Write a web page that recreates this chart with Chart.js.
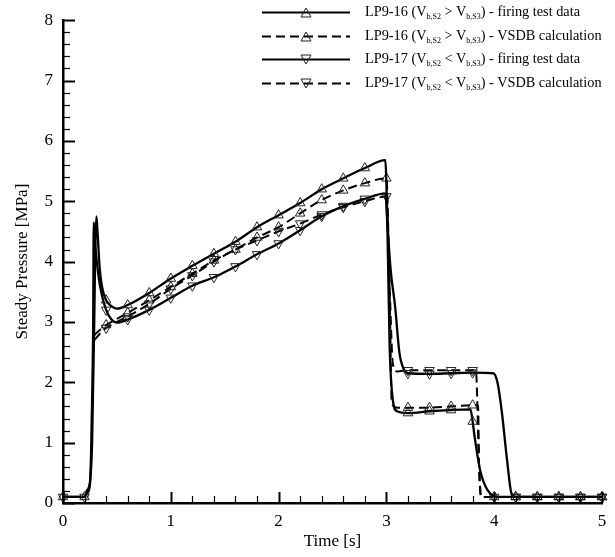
<!DOCTYPE html>
<html>
<head>
<meta charset="utf-8">
<script src="https://cdn.jsdelivr.net/npm/chart.js@4"></script>
<style>
  body { margin: 0; background: #fff; }
  #wrap { position: relative; width: 615px; height: 557px; }
  #legend { position: absolute; left: 258px; top: 0; font-family: "Liberation Serif", "Times New Roman", serif; font-size: 14.3px; color: #000; }
  .row { position: relative; height: 23.6px; line-height: 23.6px; white-space: nowrap; }
  .row svg { position: absolute; left: 0; top: 1px; }
  .row span.txt { position: absolute; left: 107px; top: 0; }
  sub { font-size: 8px; vertical-align: -3px; line-height: 0; }
</style>
</head>
<body>
<div id="wrap">
  <canvas id="chart" width="615" height="557"></canvas>
  <div id="legend"></div>
</div>
<script>
// ---- data ----
const lp16TestT = [0, 0.2, 0.22, 0.25, 0.27, 0.29, 0.3, 0.31, 0.32, 0.34, 0.36, 0.4, 0.46, 0.5, 0.6, 0.8, 1.0, 1.2, 1.4, 1.6, 1.8, 2.0, 2.2, 2.4, 2.6, 2.8, 2.99, 3.01, 3.03, 3.06, 3.1, 3.2, 3.4, 3.6, 3.78, 3.8, 3.82, 3.87, 3.94, 4.05, 4.2, 4.4, 4.6, 4.8, 5.0];
const lp16TestV = [0.1, 0.1, 0.2, 0.35, 1.0, 3.0, 4.3, 4.75, 4.5, 3.9, 3.6, 3.36, 3.25, 3.22, 3.28, 3.48, 3.72, 3.93, 4.13, 4.33, 4.57, 4.77, 4.97, 5.2, 5.38, 5.55, 5.68, 4.5, 2.6, 1.7, 1.52, 1.49, 1.52, 1.54, 1.55, 1.35, 1.08, 0.54, 0.21, 0.1, 0.1, 0.1, 0.1, 0.1, 0.1];

const lp16CalcT = [0.29, 0.3, 0.35, 0.4, 0.5, 0.6, 0.8, 1.0, 1.2, 1.4, 1.6, 1.8, 2.0, 2.2, 2.4, 2.6, 2.8, 3.0, 3.03, 3.05, 3.1, 3.2, 3.4, 3.6, 3.8, 3.85, 3.86, 3.88, 4.0, 4.2, 4.4, 4.6, 4.8, 5.0];
const lp16CalcV = [2.78, 2.8, 2.88, 2.95, 3.05, 3.15, 3.36, 3.58, 3.8, 4.02, 4.2, 4.4, 4.57, 4.8, 5.02, 5.18, 5.3, 5.38, 3.5, 1.65, 1.58, 1.58, 1.58, 1.6, 1.62, 1.62, 0.6, 0.1, 0.1, 0.1, 0.1, 0.1, 0.1, 0.1];

const lp17TestT = [0, 0.2, 0.22, 0.25, 0.26, 0.27, 0.28, 0.285, 0.3, 0.33, 0.36, 0.4, 0.45, 0.5, 0.6, 0.8, 1.0, 1.2, 1.4, 1.6, 1.8, 2.0, 2.2, 2.4, 2.6, 2.8, 2.99, 3.01, 3.04, 3.08, 3.12, 3.16, 3.2, 3.4, 3.6, 3.8, 3.99, 4.03, 4.07, 4.12, 4.16, 4.2, 4.4, 4.6, 4.8, 5.0];
const lp17TestV = [0.1, 0.1, 0.15, 0.3, 0.8, 1.7, 3.0, 4.65, 4.25, 3.75, 3.45, 3.2, 3.04, 2.99, 3.04, 3.2, 3.4, 3.6, 3.74, 3.92, 4.12, 4.3, 4.52, 4.75, 4.92, 5.04, 5.13, 4.6, 3.85, 3.27, 2.5, 2.22, 2.15, 2.14, 2.15, 2.16, 2.15, 2.0, 1.52, 0.7, 0.16, 0.1, 0.1, 0.1, 0.1, 0.1];

const lp17CalcT = [0.29, 0.3, 0.35, 0.4, 0.5, 0.6, 0.8, 1.0, 1.2, 1.4, 1.6, 1.8, 2.0, 2.2, 2.4, 2.6, 2.8, 3.0, 3.03, 3.06, 3.1, 3.2, 3.4, 3.6, 3.8, 3.83, 3.86, 3.88, 4.0, 4.2, 4.4, 4.6, 4.8, 5.0];
const lp17CalcV = [2.7, 2.72, 2.82, 2.9, 3.0, 3.09, 3.3, 3.55, 3.77, 4.0, 4.2, 4.35, 4.5, 4.63, 4.78, 4.9, 5.0, 5.08, 3.6, 2.3, 2.18, 2.2, 2.2, 2.2, 2.2, 2.2, 0.6, 0.1, 0.1, 0.1, 0.1, 0.1, 0.1, 0.1];

const xTicks = [0, 1, 2, 3, 4, 5];
const yTicks = [0, 1, 2, 3, 4, 5, 6, 7, 8];
const seriesLabels = [
  'LP9-16 (V<sub>b,S2</sub> &gt; V<sub>b,S3</sub>) - firing test data',
  'LP9-16 (V<sub>b,S2</sub> &gt; V<sub>b,S3</sub>) - VSDB calculation',
  'LP9-17 (V<sub>b,S2</sub> &lt; V<sub>b,S3</sub>) - firing test data',
  'LP9-17 (V<sub>b,S2</sub> &lt; V<sub>b,S3</sub>) - VSDB calculation'
];

const FONT = '"Liberation Serif", "Times New Roman", serif';
const pts = (t, v) => t.map((x, i) => ({ x, y: v[i] }));
// markers every 0.2 s
const markerRadius = (ctx) => {
  const x = ctx.raw ? ctx.raw.x : 0;
  return Math.abs(x * 5 - Math.round(x * 5)) < 1e-6 ? 5.5 : 0;
};

function series(label, t, v, dashed, down) {
  return {
    label, data: pts(t, v),
    borderColor: '#000', borderWidth: dashed ? 2 : 2.3,
    borderDash: dashed ? [9, 5] : [],
    cubicInterpolationMode: 'monotone',
    pointStyle: 'triangle', rotation: down ? 180 : 0,
    pointRadius: markerRadius, pointHoverRadius: 0,
    pointBorderColor: '#222', pointBorderWidth: 1,
    pointBackgroundColor: 'rgba(255,255,255,0)',
    clip: false
  };
}

const inwardTicks = {
  id: 'inwardTicks',
  afterDraw(chart) {
    const { ctx, scales: { x, y } } = chart;
    ctx.save();
    ctx.strokeStyle = '#000';
    for (let i = 0; i <= 25; i++) {
      const major = i % 5 === 0;
      const px = Math.round(x.getPixelForValue(i * 0.2)) + 0.5;
      ctx.lineWidth = major ? 2 : 1.2;
      ctx.beginPath(); ctx.moveTo(px, x.top); ctx.lineTo(px, x.top - (major ? 11 : 7)); ctx.stroke();
    }
    for (let i = 0; i <= 40; i++) {
      const major = i % 5 === 0;
      const py = Math.round(y.getPixelForValue(i * 0.2)) + 0.5;
      ctx.lineWidth = major ? 2 : 1.2;
      ctx.beginPath(); ctx.moveTo(y.right, py); ctx.lineTo(y.right + (major ? 12 : 7), py); ctx.stroke();
    }
    ctx.restore();
  }
};

new Chart(document.getElementById('chart'), {
  type: 'line',
  data: {
    datasets: [
      series('LP9-16 test', lp16TestT, lp16TestV, false, false),
      series('LP9-16 calc', lp16CalcT, lp16CalcV, true, false),
      series('LP9-17 test', lp17TestT, lp17TestV, false, true),
      series('LP9-17 calc', lp17CalcT, lp17CalcV, true, true)
    ]
  },
  options: {
    responsive: false, animation: false,
    layout: { padding: { top: 14, right: 13, left: 0, bottom: 0 } },
    plugins: { legend: { display: false }, tooltip: { enabled: false } },
    scales: {
      x: {
        type: 'linear', min: 0, max: 5,
        afterFit: (s) => { s.height = 54; },
        afterBuildTicks: (s) => { s.ticks = xTicks.map(value => ({ value })); },
        grid: { display: false, drawTicks: false },
        border: { display: true, color: '#000', width: 2.5 },
        ticks: { color: '#000', padding: 8, font: { family: FONT, size: 17 } },
        title: { display: true, text: 'Time [s]', color: '#000', font: { family: FONT, size: 17 }, padding: { top: 0, bottom: 5 } }
      },
      y: {
        type: 'linear', min: 0, max: 8,
        afterFit: (s) => { s.width = 63; },
        afterBuildTicks: (s) => { s.ticks = yTicks.map(value => ({ value })); },
        grid: { display: false, drawTicks: false },
        border: { display: true, color: '#000', width: 2.5 },
        ticks: { color: '#000', padding: 10, font: { family: FONT, size: 17 } },
        title: { display: true, text: 'Steady Pressure [MPa]', color: '#000', font: { family: FONT, size: 17 }, padding: { top: 12, bottom: 0 } }
      }
    }
  },
  plugins: [inwardTicks]
});

// legend (HTML so the subscripts stay as text)
const legend = document.getElementById('legend');
seriesLabels.forEach((html, i) => {
  const dashed = i % 2 === 1;
  const down = i >= 2;
  const tri = down ? '301,7 311,7 306,16' : '301,16 311,16 306,7';
  const row = document.createElement('div');
  row.className = 'row';
  row.innerHTML =
    `<svg width="100" height="22" viewBox="258 0 100 22">` +
    `<line x1="262" y1="11.5" x2="350" y2="11.5" stroke="#000" stroke-width="2" ${dashed ? 'stroke-dasharray="9 5"' : ''}/>` +
    `<polygon points="${tri}" fill="none" stroke="#222" stroke-width="1"/></svg>` +
    `<span class="txt">${html}</span>`;
  legend.appendChild(row);
});
</script>
</body>
</html>
